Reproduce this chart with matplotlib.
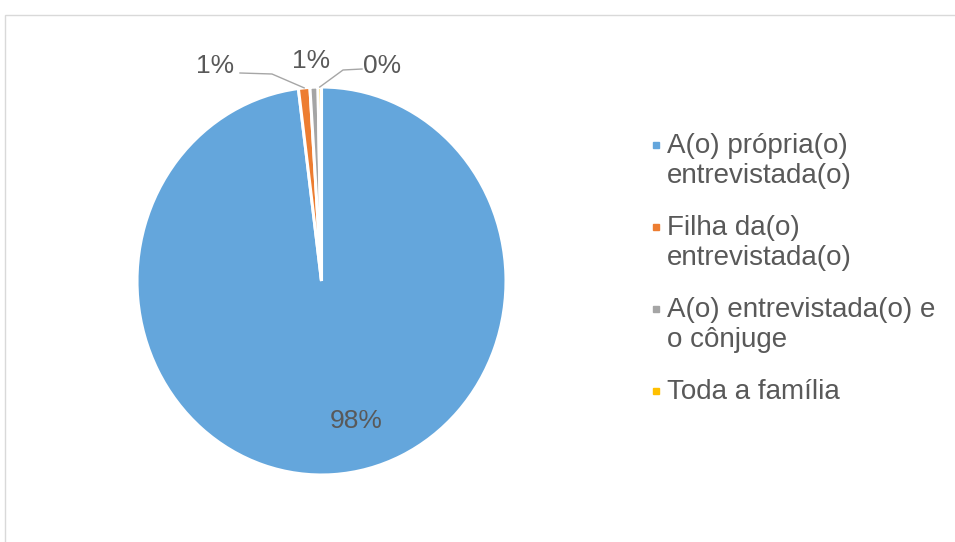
import matplotlib.pyplot as plt
from matplotlib.patches import Rectangle
import numpy as np

plt.rcParams['font.family'] = ['Liberation Sans', 'DejaVu Sans']

# Data
categories = ['A(o) própria(o)\nentrevistada(o)', 'Filha da(o)\nentrevistada(o)',
              'A(o) entrevistada(o) e\no cônjuge', 'Toda a família']
shares = [98.0, 1.0, 0.7, 0.3]
colors = ['#64A6DC', '#ED7D31', '#A5A5A5', '#FFC000']
text_color = '#595959'

W, H = 955, 542
fig = plt.figure(figsize=(W / 100, H / 100), dpi=100)

# pie box in pixels (left, top, right, bottom)
pl, pt, pr, pb = 137, 87, 506, 475
ax = fig.add_axes([pl / W, 1 - pb / H, (pr - pl) / W, (pb - pt) / H])
wedges, _ = ax.pie(shares, colors=colors, startangle=90, counterclock=False,
                   wedgeprops=dict(edgecolor='white', linewidth=2.2))
ax.set_aspect('auto')
ax.set_xlim(-1, 1)
ax.set_ylim(-1, 1)
ax.axis('off')


def px(x, y):
    # pixel position -> pie data coordinates
    return ((x - (pl + pr) / 2) / ((pr - pl) / 2), ((pt + pb) / 2 - y) / ((pb - pt) / 2))


labels = [f'{v:.0f}%' for v in shares]
label_pos = [(356, 421), (215, 66), (311, 61), (382, 66)]
for lab, pos in zip(labels, label_pos):
    ax.text(*px(*pos), lab, ha='center', va='center', fontsize=19,
            color=text_color, clip_on=False)

# leader lines for the small slices
def mid_point(w, r=1.0):
    a = np.deg2rad((w.theta1 + w.theta2) / 2)
    return r * np.cos(a), r * np.sin(a)

lead = [(1, [(240, 73), (272, 74)]), (3, [(362, 69), (343, 70)])]
for idx, pts in lead:
    tip = mid_point(wedges[idx], 1.0)
    xs = [px(*p)[0] for p in pts] + [tip[0]]
    ys = [px(*p)[1] for p in pts] + [tip[1]]
    ax.plot(xs, ys, color='#A6A6A6', linewidth=1.0, clip_on=False)

# legend drawn by hand
lx, ly0, dy = 667, 133, 82
for i, (cat, c) in enumerate(zip(categories, colors)):
    y = ly0 + i * dy
    ym = 145 + i * dy
    fig.patches.append(Rectangle(((lx - 14) / W, 1 - (ym + 3) / H), 6 / W, 6 / H,
                                 transform=fig.transFigure, color=c))
    fig.text(lx / W, 1 - y / H, cat, ha='left', va='top', fontsize=20,
             color=text_color, linespacing=1.2)

# chart border
fig.patches.append(Rectangle((5 / W, -0.1), 1.2, 1 - 15 / H + 0.1,
                             transform=fig.transFigure, fill=False,
                             edgecolor='#D9D9D9', linewidth=1.0))

plt.savefig('out.png', dpi=100)
